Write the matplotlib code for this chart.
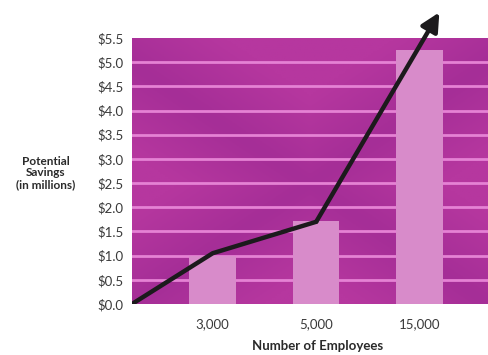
"""Potential savings vs. number of employees."""

import matplotlib
matplotlib.use("Agg")
import matplotlib.pyplot as plt
from matplotlib.colors import LinearSegmentedColormap
import numpy as np

# ---------------------------------------------------------------------------
# Data
# ---------------------------------------------------------------------------
employees   = ["3,000", "5,000", "15,000"]
savings     = [1.0, 1.71, 5.26]            # bar heights, $ millions
trend_x     = [0.22, 1.0, 2.0]             # line points (category units)
trend_y     = [0.0, 1.05, 1.70]
arrow_tip   = (3.19, 6.03)                 # arrow continues past the top
y_ticks     = np.arange(0, 5.51, 0.5)
y_labels    = [f"${v:.1f}" for v in y_ticks]

plt.rcParams["font.family"] = ["Lato", "DejaVu Sans"]

fig = plt.figure(figsize=(4.88, 3.55), dpi=100)
ax = fig.add_axes([132 / 488, 51 / 355, 356 / 488, 266 / 355])

# --- magenta background with a faint diagonal "X" shading ---
gx, gy = np.meshgrid(np.linspace(0, 1, 200), np.linspace(0, 1, 150))
d1 = np.abs(gy - (1 - gx) * 0.9)
d2 = np.abs(gy - gx * 0.9)
shade = np.clip(1 - np.minimum(d1, d2) * 3.0, 0, 1)
cmap = LinearSegmentedColormap.from_list("bg", ["#b6379f", "#a52e97"])
ax.imshow(shade, extent=(0, 1, 0, 1), transform=ax.transAxes, cmap=cmap,
          aspect="auto", origin="lower", zorder=0)

# --- gridlines ---
for v in y_ticks[1:-1]:
    ax.axhline(v, color="#e582d4", lw=2.0, zorder=1)

# --- bars ---
x = np.arange(1, len(employees) + 1)
ax.bar(x, savings, width=0.45, color="#d88bca", zorder=2)

# --- trend line with arrow ---
ax.plot(trend_x, trend_y, color="#1c1a1c", lw=3.2, zorder=3,
        solid_capstyle="round", solid_joinstyle="round")
ax.annotate("", xy=arrow_tip, xytext=(trend_x[-1], trend_y[-1]),
            arrowprops=dict(arrowstyle="-|>,head_length=1.1,head_width=0.55",
                            color="#1c1a1c", lw=3.2, shrinkA=0, shrinkB=0),
            annotation_clip=False, zorder=4)

ax.set_xlim(0.22, 3.66)
ax.set_ylim(0, 5.5)
ax.set_xticks(x)
ax.set_xticklabels(employees, fontsize=9.5, color="#3a3a3a")
ax.set_yticks(y_ticks)
ax.set_yticklabels(y_labels, fontsize=9.5, color="#3a3a3a")
ax.tick_params(axis="both", length=0)
ax.tick_params(axis="x", pad=10)
ax.tick_params(axis="y", pad=6)
for s in ax.spines.values():
    s.set_visible(False)

fig.text(46 / 488, 1 - 173 / 355, "Potential\nSavings\n(in millions)",
         ha="center", va="center", fontsize=8.5, fontweight="bold",
         color="#2a2a2a", linespacing=1.05)
fig.text(318 / 488, 1 - 346 / 355, "Number of Employees",
         ha="center", va="center", fontsize=9.5, fontweight="bold", color="#2a2a2a")

fig.savefig("out.png", dpi=100)
plt.close(fig)
